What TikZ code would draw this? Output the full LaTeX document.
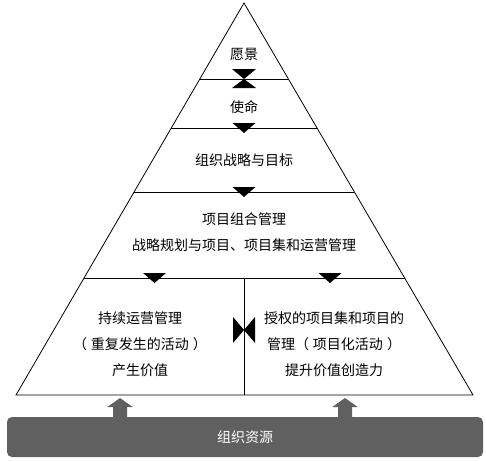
\documentclass[tikz,border=0pt]{standalone}
\usepackage{fontspec}
\setmainfont{Noto Sans CJK SC}
\usetikzlibrary{calc,arrows.meta}
\definecolor{resgray}{HTML}{606060}

\begin{document}
\begin{tikzpicture}[x=1pt,y=-1pt,
  lbl/.style={font=\fontsize{14}{26}\selectfont, text=black, align=center, inner sep=0pt},
  bar/.style={fill=resgray, rounded corners=5pt, minimum width=476pt, minimum height=40pt,
    text=white, font=\fontsize{14}{16}\selectfont},
  uparrow/.style={resgray, line width=14pt, -{Triangle[width=25pt,length=9pt]}, shorten >=3pt}]
\useasboundingbox (0,0) rectangle (486,460);

% pyramid outline
\coordinate (apex) at (244,3);
\coordinate (bl) at (16,395);
\coordinate (br) at (473,395);
\draw [line width=0.8pt] (apex) -- (bl) -- (br) -- cycle;

% layers
\foreach \t in {0.1939,0.3189,0.4821,0.7015}
{	\draw [line width=0.8pt] ($(apex)!\t!(bl)$) -- ($(apex)!\t!(br)$);
}
\draw [line width=0.8pt] (244.5,278) -- (244.5,395);

% texts
\node[lbl] (vision) at (244,54) {愿景};
\node[lbl] (mission) at (244,107) {使命};
\node[lbl] (strategy) at (244,160) {组织战略与目标};
\node[lbl] (portfolio) at (244,232) {项目组合管理\\战略规划与项目、项目集和运营管理};
\node[lbl] (operations) at (140,344) {持续运营管理\\（\hspace{4pt}重复发生的活动\hspace{4pt}）\\产生价值};
\node[lbl] (projects) at (334,344) {授权的项目集和项目的\\管理（\hspace{4pt}项目化活动\hspace{4pt}）\\提升价值创造力};

% small triangles
\fill (232,69) -- (256,69) -- (244,79) -- cycle;
\fill (232,88) -- (256,88) -- (244,79) -- cycle;
\foreach \y in {128,192}
{	\fill (232.5,\y-5) -- (255.5,\y-5) -- (244,\y+5) -- cycle;
}
\foreach \x in {154.5,330}
{	\fill (\x-11.5,273) -- (\x+11.5,273) -- (\x,283) -- cycle;
}
\fill (233,317) -- (233,343) -- (244,330) -- cycle;
\fill (255,317) -- (255,343) -- (244,330) -- cycle;

% resources
\node[bar] (resources) at (245,437) {组织资源};
\draw[uparrow] (resources.north -| 120,0) -- ($(bl)!0.2276!(br)$);
\draw[uparrow] (resources.north -| 345,0) -- ($(bl)!0.7199!(br)$);
\end{tikzpicture}
\end{document}
